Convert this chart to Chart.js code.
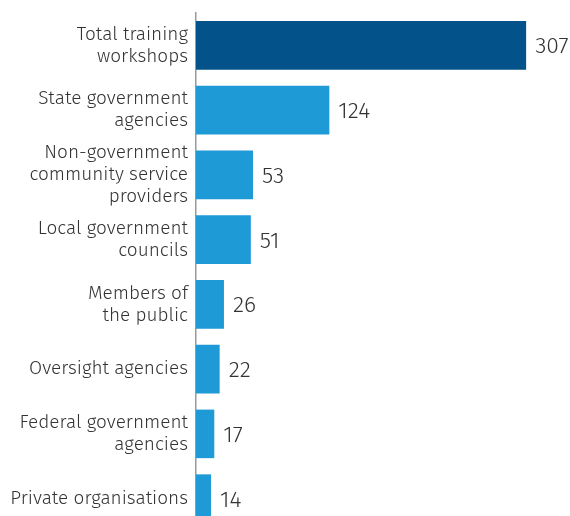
<!DOCTYPE html>
<html>
<head>
<meta charset="utf-8">
<script src="https://cdn.jsdelivr.net/npm/chart.js@4/dist/chart.umd.min.js"></script>
<style>
  html, body { margin: 0; padding: 0; background: #fff; overflow: hidden; }
  canvas { display: block; }
</style>
</head>
<body>
<canvas id="c" width="570" height="532"></canvas>
<script>
// Audience groups (multi-line labels) and number of workshops for each
const categories = [
  ['Total training', 'workshops'],
  ['State government', 'agencies'],
  ['Non-government', 'community service', 'providers'],
  ['Local government', 'councils'],
  ['Members of', 'the public'],
  'Oversight agencies',
  ['Federal government', 'agencies'],
  'Private organisations'
];
const workshops = [307, 124, 53, 51, 26, 22, 17, 14];
const barColors = ['#03528a', '#1e9ad6', '#1e9ad6', '#1e9ad6', '#1e9ad6', '#1e9ad6', '#1e9ad6', '#1e9ad6'];

const FONT = '"Fira Sans", "Open Sans", "Noto Sans", sans-serif';

// Writes each bar's value just past its end
const valueLabels = {
  id: 'valueLabels',
  afterDatasetsDraw(chart) {
    const ctx = chart.ctx;
    const meta = chart.getDatasetMeta(0);
    ctx.save();
    ctx.font = '300 23px ' + FONT;
    ctx.fillStyle = '#333333';
    ctx.textAlign = 'left';
    ctx.textBaseline = 'middle';
    meta.data.forEach((bar, i) => {
      ctx.fillText(String(workshops[i]), bar.x + 9, bar.y + 1.5);
    });
    ctx.restore();
  }
};

new Chart(document.getElementById('c'), {
  type: 'bar',
  data: {
    labels: categories,
    datasets: [{
      data: workshops,
      backgroundColor: barColors,
      borderWidth: 0,
      categoryPercentage: 0.75,
      barPercentage: 1.0
    }]
  },
  options: {
    indexAxis: 'y',
    responsive: false,
    animation: false,
    layout: { padding: { top: 13, right: 3, bottom: 1, left: 0 } },
    plugins: {
      legend: { display: false },
      tooltip: { enabled: false }
    },
    scales: {
      x: {
        display: false,
        min: 0,
        max: 345
      },
      y: {
        afterFit(scale) {
          scale.width = 196;
          // labels sit in the middle of their bands, so no extra end padding
          scale.paddingTop = 0;
          scale.paddingBottom = 0;
        },
        grid: { display: false, drawTicks: false },
        border: { display: true, color: '#9a9a9a', width: 1.5 },
        ticks: {
          autoSkip: false,
          padding: 8,
          color: '#333333',
          font: { family: FONT, size: 19, weight: 300, lineHeight: 1.15 }
        }
      }
    }
  },
  plugins: [valueLabels]
});
</script>
</body>
</html>
